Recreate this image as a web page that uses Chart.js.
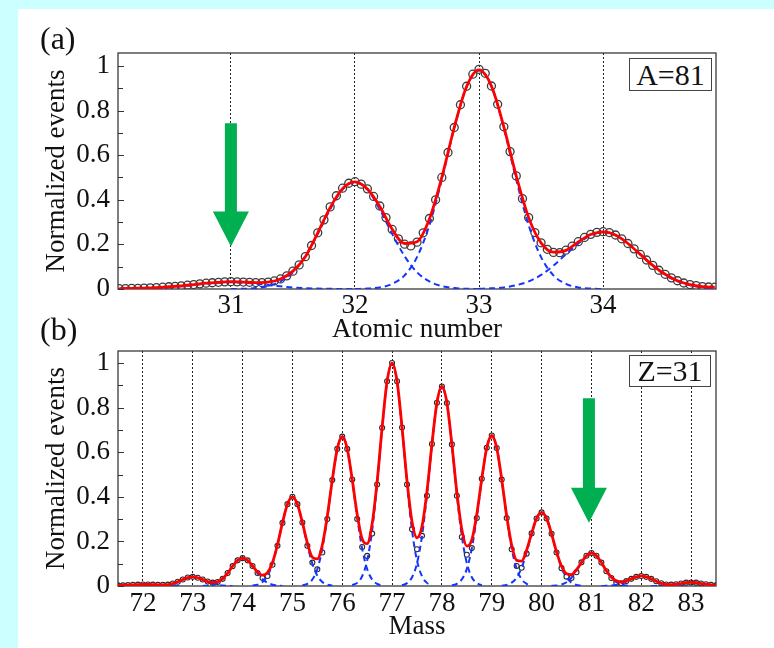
<!DOCTYPE html>
<html>
<head>
<meta charset="utf-8">
<script src="https://cdn.jsdelivr.net/npm/chart.js@4/dist/chart.umd.min.js"></script>
<style>
  html, body { margin: 0; padding: 0; }
  body { width: 774px; height: 648px; background: #ccffff; position: relative; overflow: hidden;
         font-family: "Liberation Serif", "Times New Roman", serif; }
  #sheet { position: absolute; left: 18px; top: 9px; right: 0; bottom: 0; background: #fff; }
  .wrap { position: absolute; left: 0; width: 774px; }
  #wa { top: 0; height: 346px; }
  #wb { top: 300px; height: 348px; }
  .tag { position: absolute; font-size: 32px; line-height: 32px; color: #111; z-index: 5; }
  .key { position: absolute; border: 1px solid #444; background: #fff; font-size: 30px; text-align: center;
         color: #111; z-index: 5; }
</style>
</head>
<body>
<div id="sheet"></div>
<div class="wrap" id="wa"><canvas id="chartA" width="774" height="346"></canvas></div>
<div class="wrap" id="wb"><canvas id="chartB" width="774" height="348"></canvas></div>
<div class="tag" style="left:40px;top:22px">(a)</div>
<div class="tag" style="left:40px;top:313px">(b)</div>
<div class="key" style="left:629px;top:58px;width:81px;height:31px;line-height:31px">A=81</div>
<div class="key" style="left:629px;top:355px;width:80px;height:30px;line-height:30px">Z=31</div>

<script>
// ---------- shared axis ticks ----------
const yTicks = [0, 0.2, 0.4, 0.6, 0.8, 1];
const yTickLabels = ['0', '0.2', '0.4', '0.6', '0.8', '1'];
const yMinorTicks = [0.1, 0.3, 0.5, 0.7, 0.9];

// ---------- (a) atomic-number distribution, A = 81 ----------
const zTicks = [31, 32, 33, 34];

const zMeasured = [
  30.10, 30.15, 30.20, 30.25, 30.30, 30.35, 30.40, 30.45, 30.50, 30.55, 30.60, 30.65, 30.70, 30.75, 30.80, 30.85, 30.90, 30.95,
  31.00, 31.05, 31.10, 31.15, 31.20, 31.25, 31.30, 31.35, 31.40, 31.45, 31.50, 31.55, 31.60, 31.65, 31.70, 31.75, 31.80, 31.85, 31.90, 31.95,
  32.00, 32.05, 32.10, 32.15, 32.20, 32.25, 32.30, 32.35, 32.40, 32.45, 32.50, 32.55, 32.60, 32.65, 32.70, 32.75, 32.80, 32.85, 32.90, 32.95,
  33.00, 33.05, 33.10, 33.15, 33.20, 33.25, 33.30, 33.35, 33.40, 33.45, 33.50, 33.55, 33.60, 33.65, 33.70, 33.75, 33.80, 33.85, 33.90, 33.95,
  34.00, 34.05, 34.10, 34.15, 34.20, 34.25, 34.30, 34.35, 34.40, 34.45, 34.50, 34.55, 34.60, 34.65, 34.70, 34.75, 34.80, 34.85, 34.90
];
const eventsZMeasured = [
  0.002, 0.002, 0.003, 0.003, 0.004, 0.005, 0.006, 0.008, 0.010, 0.012, 0.014, 0.017, 0.020, 0.023, 0.026, 0.028, 0.030, 0.032,
  0.033, 0.032, 0.031, 0.030, 0.029, 0.029, 0.031, 0.036, 0.045, 0.059, 0.080, 0.108, 0.145, 0.195, 0.252, 0.310, 0.368, 0.418, 0.452, 0.474,
  0.481, 0.470, 0.449, 0.415, 0.372, 0.320, 0.267, 0.225, 0.201, 0.193, 0.210, 0.252, 0.316, 0.400, 0.500, 0.612, 0.724, 0.826, 0.909, 0.963,
  0.985, 0.967, 0.910, 0.828, 0.727, 0.616, 0.507, 0.405, 0.320, 0.253, 0.207, 0.178, 0.164, 0.163, 0.174, 0.192, 0.212, 0.231, 0.245, 0.254,
  0.257, 0.253, 0.242, 0.225, 0.204, 0.180, 0.155, 0.130, 0.106, 0.084, 0.066, 0.050, 0.037, 0.027, 0.020, 0.015, 0.011, 0.009, 0.008
];

const zFit = [
  30.1, 30.2, 30.3, 30.4, 30.5, 30.6, 30.7, 30.8, 30.9,
  31.0, 31.1, 31.2, 31.3, 31.4, 31.5, 31.6, 31.7, 31.8, 31.9,
  32.0, 32.1, 32.2, 32.3, 32.4, 32.5, 32.6, 32.7, 32.8, 32.9,
  33.0, 33.1, 33.2, 33.3, 33.4, 33.5, 33.6, 33.7, 33.8, 33.9,
  34.0, 34.1, 34.2, 34.3, 34.4, 34.5, 34.6, 34.7, 34.8, 34.9
];
const eventsZFit = [
  0.002, 0.003, 0.004, 0.006, 0.010, 0.014, 0.020, 0.026, 0.030,
  0.033, 0.031, 0.029, 0.031, 0.045, 0.080, 0.145, 0.252, 0.365, 0.450,
  0.480, 0.448, 0.370, 0.268, 0.204, 0.212, 0.314, 0.500, 0.724, 0.908,
  0.982, 0.910, 0.727, 0.507, 0.320, 0.207, 0.165, 0.173, 0.211, 0.244,
  0.256, 0.242, 0.204, 0.155, 0.106, 0.066, 0.037, 0.020, 0.011, 0.008
];

// single-Z components, sampled around each centre
const zPeakCentres = [31, 32, 33, 34];
const zPeakOffsets = [-1.0, -0.9, -0.8, -0.7, -0.6, -0.5, -0.4, -0.3, -0.2, -0.1, 0,
                       0.1, 0.2, 0.3, 0.4, 0.5, 0.6, 0.7, 0.8, 0.9, 1.0];
const zPeak31 = [0, 0, 0.001, 0.002, 0.004, 0.007, 0.012, 0.018, 0.024, 0.028, 0.030,
                 0.028, 0.024, 0.018, 0.012, 0.007, 0.004, 0.002, 0.001, 0, 0];
const zPeak32 = [0, 0.001, 0.004, 0.013, 0.034, 0.075, 0.147, 0.247, 0.357, 0.446, 0.480,
                 0.446, 0.357, 0.247, 0.147, 0.075, 0.034, 0.013, 0.004, 0.001, 0];
const zPeak33 = [0, 0.002, 0.007, 0.023, 0.061, 0.143, 0.286, 0.490, 0.720, 0.907, 0.980,
                 0.907, 0.720, 0.490, 0.286, 0.143, 0.061, 0.023, 0.007, 0.002, 0];
const zPeak34 = [0.001, 0.003, 0.007, 0.017, 0.034, 0.063, 0.105, 0.155, 0.204, 0.241, 0.255,
                 0.241, 0.204, 0.155, 0.105, 0.063, 0.034, 0.017, 0.007, 0.003, 0.001];

// ---------- (b) mass distribution, Z = 31 ----------
const massTicks = [72, 73, 74, 75, 76, 77, 78, 79, 80, 81, 82, 83];

const mass = [
  71.5, 71.6, 71.7, 71.8, 71.9,
  72.0, 72.1, 72.2, 72.3, 72.4, 72.5, 72.6, 72.7, 72.8, 72.9,
  73.0, 73.1, 73.2, 73.3, 73.4, 73.5, 73.6, 73.7, 73.8, 73.9,
  74.0, 74.1, 74.2, 74.3, 74.4, 74.5, 74.6, 74.7, 74.8, 74.9,
  75.0, 75.1, 75.2, 75.3, 75.4, 75.5, 75.6, 75.7, 75.8, 75.9,
  76.0, 76.1, 76.2, 76.3, 76.4, 76.5, 76.6, 76.7, 76.8, 76.9,
  77.0, 77.1, 77.2, 77.3, 77.4, 77.5, 77.6, 77.7, 77.8, 77.9,
  78.0, 78.1, 78.2, 78.3, 78.4, 78.5, 78.6, 78.7, 78.8, 78.9,
  79.0, 79.1, 79.2, 79.3, 79.4, 79.5, 79.6, 79.7, 79.8, 79.9,
  80.0, 80.1, 80.2, 80.3, 80.4, 80.5, 80.6, 80.7, 80.8, 80.9,
  81.0, 81.1, 81.2, 81.3, 81.4, 81.5, 81.6, 81.7, 81.8, 81.9,
  82.0, 82.1, 82.2, 82.3, 82.4, 82.5, 82.6, 82.7, 82.8, 82.9,
  83.0, 83.1, 83.2, 83.3, 83.4, 83.5
];
const eventsMassMeasured = [
  0.003, 0.003, 0.004, 0.005, 0.006,
  0.007, 0.007, 0.006, 0.005, 0.005, 0.006, 0.011, 0.019, 0.029, 0.038,
  0.041, 0.037, 0.029, 0.020, 0.015, 0.018, 0.032, 0.058, 0.089, 0.115,
  0.125, 0.115, 0.090, 0.058, 0.036, 0.045, 0.095, 0.180, 0.283, 0.367,
  0.400, 0.367, 0.285, 0.180, 0.105, 0.075, 0.150, 0.300, 0.475, 0.615,
  0.670, 0.615, 0.478, 0.300, 0.175, 0.135, 0.235, 0.455, 0.710, 0.918,
  1.000, 0.918, 0.711, 0.455, 0.255, 0.165, 0.225, 0.405, 0.637, 0.822,
  0.895, 0.821, 0.635, 0.405, 0.220, 0.140, 0.170, 0.305, 0.481, 0.620,
  0.675, 0.619, 0.478, 0.305, 0.165, 0.090, 0.082, 0.145, 0.236, 0.303,
  0.330, 0.303, 0.234, 0.150, 0.080, 0.042, 0.036, 0.062, 0.106, 0.136,
  0.148, 0.136, 0.105, 0.066, 0.036, 0.015, 0.012, 0.022, 0.032, 0.041,
  0.045, 0.041, 0.032, 0.021, 0.012, 0.007, 0.006, 0.008, 0.011, 0.015,
  0.016, 0.015, 0.011, 0.008, 0.005, 0.003
];
const eventsMassFit = [
  0.003, 0.003, 0.004, 0.005, 0.006,
  0.007, 0.007, 0.006, 0.005, 0.005, 0.006, 0.011, 0.019, 0.029, 0.038,
  0.041, 0.037, 0.029, 0.020, 0.016, 0.019, 0.033, 0.058, 0.089, 0.115,
  0.125, 0.115, 0.090, 0.063, 0.049, 0.060, 0.105, 0.185, 0.283, 0.367,
  0.400, 0.367, 0.285, 0.193, 0.129, 0.122, 0.184, 0.313, 0.475, 0.615,
  0.670, 0.615, 0.478, 0.321, 0.211, 0.190, 0.279, 0.468, 0.710, 0.918,
  1.000, 0.918, 0.711, 0.471, 0.288, 0.216, 0.267, 0.424, 0.637, 0.822,
  0.895, 0.821, 0.635, 0.420, 0.253, 0.179, 0.207, 0.322, 0.481, 0.620,
  0.675, 0.619, 0.478, 0.314, 0.183, 0.115, 0.112, 0.161, 0.236, 0.303,
  0.330, 0.303, 0.234, 0.153, 0.089, 0.055, 0.051, 0.073, 0.106, 0.136,
  0.148, 0.136, 0.105, 0.068, 0.039, 0.022, 0.018, 0.023, 0.032, 0.041,
  0.045, 0.041, 0.032, 0.021, 0.012, 0.007, 0.006, 0.008, 0.011, 0.015,
  0.016, 0.015, 0.011, 0.008, 0.005, 0.003
];

// single-mass components, sampled around each centre
const massPeakOffsets = [-0.8, -0.7, -0.6, -0.5, -0.4, -0.3, -0.2, -0.1, 0,
                          0.1, 0.2, 0.3, 0.4, 0.5, 0.6, 0.7, 0.8];
const massPeaks = {
  72: [0, 0, 0, 0.001, 0.001, 0.003, 0.004, 0.006, 0.006, 0.006, 0.004, 0.003, 0.001, 0.001, 0, 0, 0],
  73: [0, 0.001, 0.002, 0.005, 0.010, 0.018, 0.028, 0.037, 0.040, 0.037, 0.028, 0.018, 0.010, 0.005, 0.002, 0.001, 0],
  74: [0, 0.002, 0.006, 0.014, 0.031, 0.057, 0.088, 0.115, 0.125, 0.115, 0.088, 0.057, 0.031, 0.014, 0.006, 0.002, 0],
  75: [0.002, 0.006, 0.018, 0.046, 0.100, 0.183, 0.283, 0.367, 0.400, 0.367, 0.283, 0.183, 0.100, 0.046, 0.018, 0.006, 0.002],
  76: [0.003, 0.010, 0.029, 0.076, 0.167, 0.307, 0.474, 0.614, 0.670, 0.614, 0.474, 0.307, 0.167, 0.076, 0.029, 0.010, 0.003],
  77: [0.004, 0.014, 0.044, 0.114, 0.249, 0.458, 0.707, 0.917, 1.000, 0.917, 0.707, 0.458, 0.249, 0.114, 0.044, 0.014, 0.004],
  78: [0.003, 0.013, 0.039, 0.102, 0.223, 0.410, 0.633, 0.821, 0.895, 0.821, 0.633, 0.410, 0.223, 0.102, 0.039, 0.013, 0.003],
  79: [0.003, 0.010, 0.030, 0.077, 0.168, 0.309, 0.477, 0.619, 0.675, 0.619, 0.477, 0.309, 0.168, 0.077, 0.030, 0.010, 0.003],
  80: [0.001, 0.005, 0.015, 0.038, 0.082, 0.151, 0.233, 0.303, 0.330, 0.303, 0.233, 0.151, 0.082, 0.038, 0.015, 0.005, 0.001],
  81: [0.001, 0.002, 0.007, 0.017, 0.037, 0.068, 0.105, 0.136, 0.148, 0.136, 0.105, 0.068, 0.037, 0.017, 0.007, 0.002, 0.001],
  82: [0, 0.001, 0.002, 0.005, 0.011, 0.021, 0.032, 0.041, 0.045, 0.041, 0.032, 0.021, 0.011, 0.005, 0.002, 0.001, 0],
  83: [0, 0, 0.001, 0.002, 0.004, 0.007, 0.011, 0.015, 0.016, 0.015, 0.011, 0.007, 0.004, 0.002, 0.001, 0, 0]
};

// ---------- drawing ----------
const FONT = '"Liberation Serif", "Times New Roman", serif';
const INK = '#111';
const RED = '#ff0000';
const BLUE = '#1434ff';
const GREEN = '#00b050';

const toPoints = (xs, ys) => xs.map((x, i) => ({ x: x, y: ys[i] }));
const around = (centre, offsets) => offsets.map(o => Math.round((centre + o) * 100) / 100);

// frame, inward y ticks (under the curves) and the marker arrow (over them)
const panelDecor = {
  id: 'panelDecor',
  beforeDatasetsDraw(chart) {
    const { ctx, chartArea: a, scales: { y } } = chart;
    ctx.save();
    ctx.strokeStyle = '#3a3a3a';
    ctx.lineWidth = 1.3;
    ctx.strokeRect(a.left, a.top, a.right - a.left, a.bottom - a.top);
    ctx.lineWidth = 1;
    ctx.strokeStyle = '#333';
    ctx.beginPath();
    yTicks.forEach(v => {
      const py = Math.round(y.getPixelForValue(v)) + 0.5;
      ctx.moveTo(a.left, py); ctx.lineTo(a.left + 6, py);
    });
    yMinorTicks.forEach(v => {
      const py = Math.round(y.getPixelForValue(v)) + 0.5;
      ctx.moveTo(a.left, py); ctx.lineTo(a.left + 5, py);
    });
    ctx.stroke();
    ctx.restore();
  },
  afterDatasetsDraw(chart, args, opts) {
    const ar = opts.arrow;
    if (!ar) return;
    const { ctx, scales: { x, y } } = chart;
    const cx = x.getPixelForValue(ar.at);
    const y0 = y.getPixelForValue(ar.from);
    const y1 = y.getPixelForValue(ar.neck);
    const y2 = y.getPixelForValue(ar.tip);
    ctx.save();
    ctx.fillStyle = GREEN;
    ctx.beginPath();
    ctx.moveTo(cx - 6, y0); ctx.lineTo(cx + 6, y0);
    ctx.lineTo(cx + 6, y1); ctx.lineTo(cx + 18, y1);
    ctx.lineTo(cx, y2);
    ctx.lineTo(cx - 18, y1); ctx.lineTo(cx - 6, y1);
    ctx.closePath();
    ctx.fill();
    ctx.restore();
  }
};

function makePanel(canvasId, cfg) {
  const datasets = [];
  datasets.push({
    label: 'fit', data: cfg.fit, borderColor: RED, borderWidth: 2.8,
    pointRadius: 0, cubicInterpolationMode: 'monotone', order: 0
  });
  cfg.components.forEach(c => datasets.push({
    label: 'component', data: c, borderColor: BLUE, borderWidth: 2,
    borderDash: [6, 4], pointRadius: 0, cubicInterpolationMode: 'monotone', order: 1
  }));
  datasets.push({
    label: 'measured', data: cfg.measured, showLine: false,
    pointRadius: cfg.pointRadius, pointBorderWidth: cfg.pointBorderWidth,
    pointBorderColor: cfg.pointColor, pointBackgroundColor: 'rgba(255,255,255,0)', order: 2
  });

  return new Chart(document.getElementById(canvasId), {
    type: 'line',
    data: { datasets },
    plugins: [panelDecor],
    options: {
      responsive: false,
      animation: false,
      events: [],
      layout: { padding: { left: 18, top: cfg.padTop, right: 58, bottom: 0 } },
      plugins: {
        legend: { display: false },
        tooltip: { enabled: false },
        panelDecor: { arrow: cfg.arrow }
      },
      scales: {
        x: {
          type: 'linear', min: cfg.xMin, max: cfg.xMax,
          afterFit: s => { s.height = cfg.xAxisHeight; },
          afterBuildTicks: s => { s.ticks = cfg.xTicks.map(v => ({ value: v })); },
          ticks: { font: { family: FONT, size: 27 }, color: INK, padding: cfg.xTickPad, autoSkip: false, maxRotation: 0 },
          grid: { color: '#222', lineWidth: 1, drawTicks: false },
          border: { display: false, dash: [2, 2] },
          title: { display: true, text: cfg.xTitle, font: { family: FONT, size: 27 }, color: INK,
                   padding: { top: 0, bottom: cfg.xTitlePad } }
        },
        y: {
          type: 'linear', min: 0, max: cfg.yMax,
          afterFit: s => { s.width = 100; },
          afterBuildTicks: s => { s.ticks = yTicks.map(v => ({ value: v })); },
          ticks: { font: { family: FONT, size: 27 }, color: INK, padding: 8, autoSkip: false,
                   callback: (v, i) => yTickLabels[i] },
          grid: { display: false, drawTicks: false },
          border: { display: false },
          title: { display: true, text: 'Normalized events', font: { family: FONT, size: 27 }, color: INK,
                   padding: { top: 23, bottom: 0 } }
        }
      }
    }
  });
}

makePanel('chartA', {
  fit: toPoints(zFit, eventsZFit),
  measured: toPoints(zMeasured, eventsZMeasured),
  components: [zPeak31, zPeak32, zPeak33, zPeak34].map((vals, i) =>
    toPoints(around(zPeakCentres[i], zPeakOffsets), vals)),
  pointRadius: 4, pointBorderWidth: 1.3, pointColor: '#3c3c3c',
  xMin: 30.09, xMax: 34.91, yMax: 1.058,
  xTicks: zTicks, xTitle: 'Atomic number',
  padTop: 53, xAxisHeight: 57, xTickPad: 1, xTitlePad: 0,
  arrow: { at: 31, from: 0.743, neck: 0.347, tip: 0.19 }
});

makePanel('chartB', {
  fit: toPoints(mass, eventsMassFit),
  measured: toPoints(mass, eventsMassMeasured),
  components: massTicks.map(m => toPoints(around(m, massPeakOffsets), massPeaks[m])),
  pointRadius: 2.5, pointBorderWidth: 1.1, pointColor: '#2a2a2a',
  xMin: 71.5, xMax: 83.5, yMax: 1.054,
  xTicks: massTicks, xTitle: 'Mass',
  padTop: 51, xAxisHeight: 62, xTickPad: 2, xTitlePad: 5,
  arrow: { at: 80.95, from: 0.842, neck: 0.441, tip: 0.284 }
});
</script>
</body>
</html>
